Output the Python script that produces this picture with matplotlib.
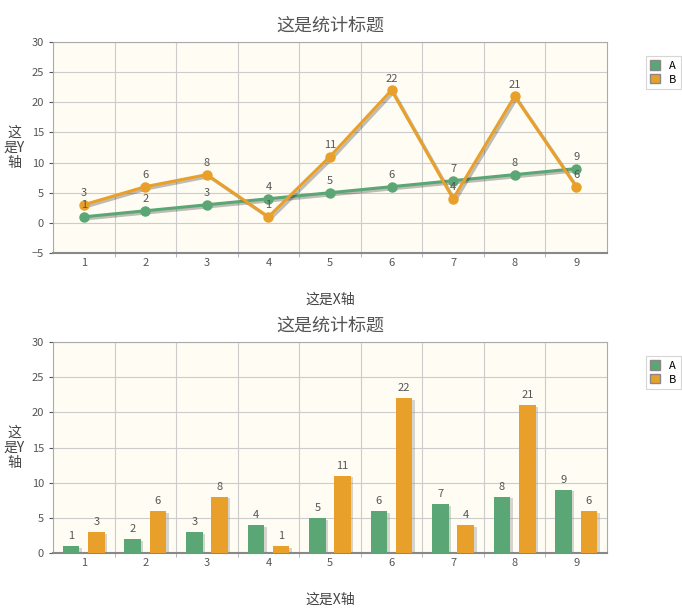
import matplotlib
matplotlib.use("Agg")
import matplotlib.pyplot as plt
import matplotlib.patheffects as pe
from matplotlib.patches import Patch

plt.rcParams['font.family'] = ['Noto Sans CJK JP', 'Noto Sans CJK SC', 'Noto Sans CJK TC', 'DejaVu Sans']

categories = [1, 2, 3, 4, 5, 6, 7, 8, 9]
series_a = [1, 2, 3, 4, 5, 6, 7, 8, 9]
series_b = [3, 6, 8, 1, 11, 22, 4, 21, 6]
title = "这是统计标题"
xlabel = "这是X轴"
ylabel = "这\n是Y\n轴"

GREEN = "#5ba675"
ORANGE = "#e8a02a"
BG = "#fffcf3"
W, H = 682, 610

fig = plt.figure(figsize=(W/100, H/100), dpi=100)

def ax_at(x0, y0, x1, y1):
    return fig.add_axes([x0/W, 1-y1/H, (x1-x0)/W, (y1-y0)/H])

def style(ax, ylo, ytext):
    ax.set_facecolor(BG)
    ax.set_xlim(0.5, 9.5)
    ax.set_ylim(ylo, 30)
    ax.set_yticks(range(ylo, 31, 5))
    ax.set_xticks(categories)
    ax.set_xticks([x + 0.5 for x in categories[:-1]], minor=True)
    ax.grid(True, which='minor', axis='x', color='#cccccc', lw=0.8)
    ax.grid(True, which='major', axis='y', color='#cccccc', lw=0.8)
    ax.set_axisbelow(True)
    for s in ax.spines.values():
        s.set_color('#aaaaaa')
    ax.spines['bottom'].set_color('#888888')
    ax.spines['bottom'].set_linewidth(1.5)
    ax.tick_params(labelsize=8, colors='#555555', length=3)
    ax.tick_params(which='minor', length=3, color='#aaaaaa')
    ax.tick_params(axis='x', which='major', length=0)
    ax.set_xlabel(xlabel, fontsize=10, color='#444444', labelpad=18)
    fig.text(14/W, 1 - ytext/H, ylabel, fontsize=10, color='#444444', ha='center', va='center', linespacing=1.1)
    ax.set_title(title, fontsize=13, color='#555555', pad=8)
    handles = [Patch(facecolor=GREEN, edgecolor='#888888', label='A'),
               Patch(facecolor=ORANGE, edgecolor='#888888', label='B')]
    leg = ax.legend(handles=handles, loc='upper left', bbox_to_anchor=(1.06, 0.96), fontsize=8,
                    frameon=True, handlelength=0.9, handleheight=0.9, borderpad=0.4,
                    labelspacing=0.3, fancybox=False)
    leg.get_frame().set_edgecolor('#cccccc')
    leg.get_frame().set_linewidth(0.8)

shadow = [pe.SimpleLineShadow(offset=(1.5, -1.5), alpha=0.25), pe.Normal()]

ax1 = ax_at(53, 42, 607, 253)
ax1.plot(categories, series_a, color=GREEN, lw=2.2, path_effects=shadow)
ax1.plot(categories, series_b, color=ORANGE, lw=2.2, path_effects=shadow)
ax1.plot(categories, series_a, 'o', color=GREEN, ms=6.5)
ax1.plot(categories, series_b, 'o', color=ORANGE, ms=6.5)
for x, a, b in zip(categories, series_a, series_b):
    ax1.annotate(str(a), (x, a), xytext=(0, 6), textcoords='offset points', ha='center', fontsize=8, color='#555555')
    ax1.annotate(str(b), (x, b), xytext=(0, 6), textcoords='offset points', ha='center', fontsize=8, color='#555555')
style(ax1, -5, 148)

ax2 = ax_at(53, 342, 607, 553)
off, bw = 0.205, 0.27
xa = [x - off for x in categories]
xb = [x + off for x in categories]
ax2.bar([x + 0.04 for x in xa], series_a, bw, bottom=-0.25, color='#999999', alpha=0.4, zorder=2)
ax2.bar([x + 0.04 for x in xb], series_b, bw, bottom=-0.25, color='#999999', alpha=0.4, zorder=2)
ax2.bar(xa, series_a, bw, color=GREEN, zorder=3)
ax2.bar(xb, series_b, bw, color=ORANGE, zorder=3)
for x, v in zip(xa, series_a):
    ax2.annotate(str(v), (x, v), xytext=(0, 5), textcoords='offset points', ha='center', fontsize=8, color='#555555')
for x, v in zip(xb, series_b):
    ax2.annotate(str(v), (x, v), xytext=(0, 5), textcoords='offset points', ha='center', fontsize=8, color='#555555')
style(ax2, 0, 448)

fig.savefig("out.png", dpi=100)
